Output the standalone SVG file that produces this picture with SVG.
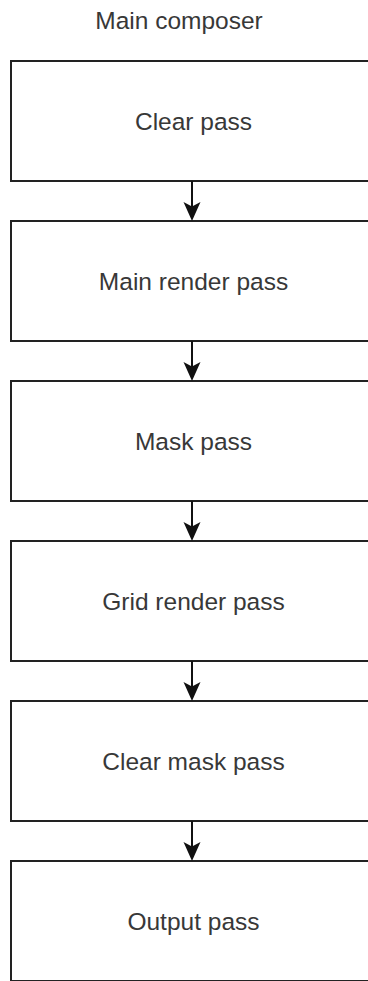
<svg xmlns="http://www.w3.org/2000/svg" width="368" height="981" viewBox="0 0 368 981">
  <defs>
    <style>
      .box { fill: #ffffff; stroke: #222222; stroke-width: 2; }
      .label { font-family: "Liberation Sans", Arial, sans-serif; font-size: 24.5px; fill: #383838; text-anchor: middle; }
      .edge { stroke: #111111; stroke-width: 2; fill: none; }
      .head { fill: #111111; stroke: none; }
    </style>
  </defs>
  <rect x="0" y="0" width="368" height="981" fill="#ffffff"/>

  <text id="title" class="label" x="179" y="29">Main composer</text>

  <g id="clear-pass">
    <rect class="box" x="11" y="61" width="362" height="120"/>
    <text class="label" x="193.5" y="130">Clear pass</text>
  </g>
  <g id="main-render-pass">
    <rect class="box" x="11" y="221" width="362" height="120"/>
    <text class="label" x="193.5" y="290">Main render pass</text>
  </g>
  <g id="mask-pass">
    <rect class="box" x="11" y="381" width="362" height="120"/>
    <text class="label" x="193.5" y="450">Mask pass</text>
  </g>
  <g id="grid-render-pass">
    <rect class="box" x="11" y="541" width="362" height="120"/>
    <text class="label" x="193.5" y="610">Grid render pass</text>
  </g>
  <g id="clear-mask-pass">
    <rect class="box" x="11" y="701" width="362" height="120"/>
    <text class="label" x="193.5" y="770">Clear mask pass</text>
  </g>
  <g id="output-pass">
    <rect class="box" x="11" y="861" width="362" height="120"/>
    <text class="label" x="193.5" y="930">Output pass</text>
  </g>

  <g id="connectors">
    <g transform="translate(0,0)">
      <line class="edge" x1="192" y1="181" x2="192" y2="208"/>
      <path class="head" d="M192,221 L183.5,202 L192,206.5 L200.5,202 Z"/>
    </g>
    <g transform="translate(0,160)">
      <line class="edge" x1="192" y1="181" x2="192" y2="208"/>
      <path class="head" d="M192,221 L183.5,202 L192,206.5 L200.5,202 Z"/>
    </g>
    <g transform="translate(0,320)">
      <line class="edge" x1="192" y1="181" x2="192" y2="208"/>
      <path class="head" d="M192,221 L183.5,202 L192,206.5 L200.5,202 Z"/>
    </g>
    <g transform="translate(0,480)">
      <line class="edge" x1="192" y1="181" x2="192" y2="208"/>
      <path class="head" d="M192,221 L183.5,202 L192,206.5 L200.5,202 Z"/>
    </g>
    <g transform="translate(0,640)">
      <line class="edge" x1="192" y1="181" x2="192" y2="208"/>
      <path class="head" d="M192,221 L183.5,202 L192,206.5 L200.5,202 Z"/>
    </g>
  </g>
</svg>
